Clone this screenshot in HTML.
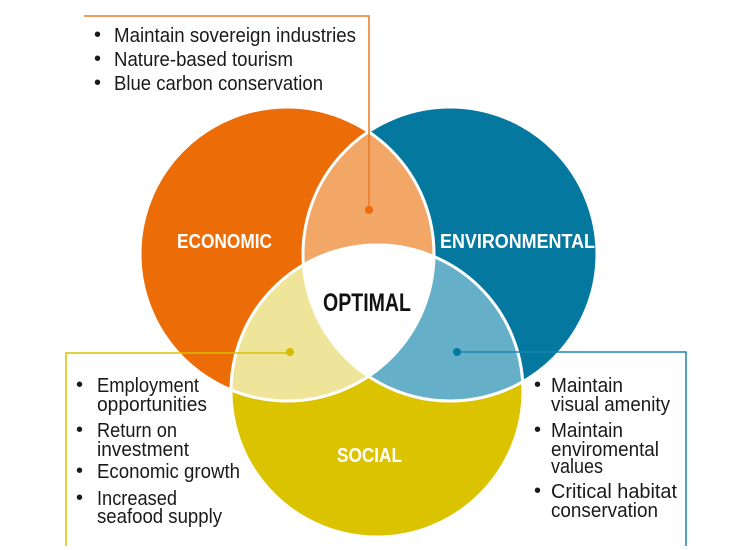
<!DOCTYPE html>
<html><head><meta charset="utf-8"><style>
html,body{margin:0;padding:0;background:#fff;}
svg{display:block;}
text{font-family:"Liberation Sans Narrow","Liberation Sans",sans-serif;}
.t{font-size:20px;fill:#1a1a1a;}
.w{font-size:20px;font-weight:bold;fill:#fff;}
</style></head><body>
<svg width="740" height="550" viewBox="0 0 740 550" xmlns="http://www.w3.org/2000/svg">
<defs>
<clipPath id="cE"><circle cx="287" cy="254" r="147"/></clipPath>
<clipPath id="cV"><circle cx="450" cy="254" r="147"/></clipPath>
</defs>
<circle cx="287" cy="254" r="147" fill="#ec6d07"/>
<circle cx="450" cy="254" r="147" fill="#04789f"/>
<circle cx="377" cy="391" r="146" fill="#dcc300"/>
<g clip-path="url(#cE)"><circle cx="450" cy="254" r="147" fill="#f2a766"/><circle cx="377" cy="391" r="146" fill="#efe59a"/></g>
<g clip-path="url(#cV)"><circle cx="377" cy="391" r="146" fill="#66afc8"/></g>
<g clip-path="url(#cE)"><g clip-path="url(#cV)"><circle cx="377" cy="391" r="146" fill="#fff"/></g></g>
<g fill="none" stroke="#fff" stroke-width="3">
<circle cx="287" cy="254" r="147"/><circle cx="450" cy="254" r="147"/><circle cx="377" cy="391" r="146"/>
</g>
<polyline points="84,16 369,16 369,210" fill="none" stroke="#ec7a22" stroke-width="1.5"/>
<circle cx="369" cy="210" r="4" fill="#ec6d07"/>
<polyline points="290,353 66,353 66,546" fill="none" stroke="#d9c000" stroke-width="1.5"/>
<circle cx="290" cy="352" r="4" fill="#d4bc00"/>
<polyline points="457,352 686,352 686,546" fill="none" stroke="#1a86b0" stroke-width="1.5"/>
<circle cx="457" cy="352" r="4" fill="#04789f"/>
<text class="w" x="177" y="248" textLength="95" lengthAdjust="spacingAndGlyphs">ECONOMIC</text>
<text class="w" x="440" y="248" textLength="155" lengthAdjust="spacingAndGlyphs">ENVIRONMENTAL</text>
<text x="323" y="311" font-size="25" font-weight="bold" fill="#111" textLength="88" lengthAdjust="spacingAndGlyphs">OPTIMAL</text>
<text class="w" x="337" y="462" textLength="65" lengthAdjust="spacingAndGlyphs">SOCIAL</text>
<g class="t">
<text x="94" y="41">•</text><text x="114" y="42" textLength="242" lengthAdjust="spacingAndGlyphs">Maintain sovereign industries</text>
<text x="94" y="65">•</text><text x="114" y="66" textLength="179" lengthAdjust="spacingAndGlyphs">Nature-based tourism</text>
<text x="94" y="89">•</text><text x="114" y="90" textLength="209" lengthAdjust="spacingAndGlyphs">Blue carbon conservation</text>
</g>
<g class="t">
<text x="76" y="391">•</text><text x="97" y="392" textLength="102" lengthAdjust="spacingAndGlyphs">Employment</text>
<text x="97" y="411" textLength="110" lengthAdjust="spacingAndGlyphs">opportunities</text>
<text x="76" y="436">•</text><text x="97" y="437" textLength="80" lengthAdjust="spacingAndGlyphs">Return on</text>
<text x="97" y="456" textLength="92" lengthAdjust="spacingAndGlyphs">investment</text>
<text x="76" y="477">•</text><text x="97" y="478" textLength="143" lengthAdjust="spacingAndGlyphs">Economic growth</text>
<text x="76" y="504">•</text><text x="97" y="505" textLength="80" lengthAdjust="spacingAndGlyphs">Increased</text>
<text x="97" y="523" textLength="125" lengthAdjust="spacingAndGlyphs">seafood supply</text>
</g>
<g class="t">
<text x="534" y="391">•</text><text x="551" y="392" textLength="72" lengthAdjust="spacingAndGlyphs">Maintain</text>
<text x="551" y="411" textLength="119" lengthAdjust="spacingAndGlyphs">visual amenity</text>
<text x="534" y="436">•</text><text x="551" y="437" textLength="72" lengthAdjust="spacingAndGlyphs">Maintain</text>
<text x="551" y="456" textLength="108" lengthAdjust="spacingAndGlyphs">enviromental</text>
<text x="551" y="473" textLength="52" lengthAdjust="spacingAndGlyphs">values</text>
<text x="534" y="497">•</text><text x="551" y="498" textLength="126" lengthAdjust="spacingAndGlyphs">Critical habitat</text>
<text x="551" y="517" textLength="107" lengthAdjust="spacingAndGlyphs">conservation</text>
</g>
</svg>
</body></html>
